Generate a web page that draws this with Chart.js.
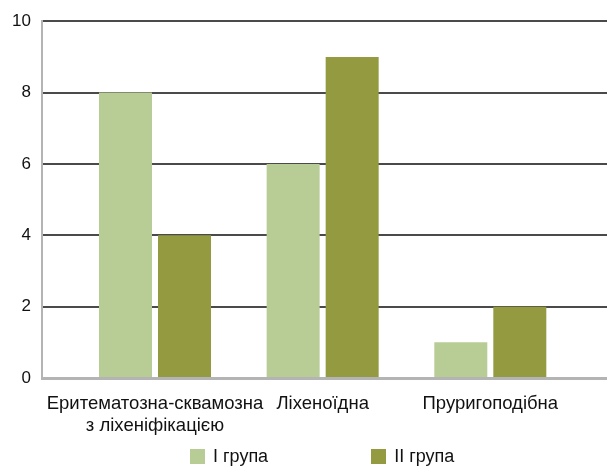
<!DOCTYPE html>
<html lang="uk">
<head>
<meta charset="utf-8">
<title>Групи</title>
<script src="https://cdn.jsdelivr.net/npm/chart.js@4.4.1/dist/chart.umd.min.js"></script>
<style>
  html, body { margin: 0; padding: 0; background: #fff; }
  #wrap { position: relative; width: 607px; height: 467px; overflow: hidden; }
  #legenda {
    position: absolute; left: 190px; top: 446px;
    display: flex; align-items: center;
    font-family: "Liberation Sans", Arial, sans-serif; font-size: 18px; color: #111;
  }
  .item { display: flex; align-items: center; margin-right: 103px; }
  .item:last-child { margin-right: 0; }
  .caixa { width: 15px; height: 15px; margin-right: 8px; }
</style>
</head>
<body>
<div id="wrap">
  <canvas id="meuGrafico" width="607" height="467"></canvas>
  <div id="legenda"></div>
</div>
<script>
// dados do gráfico
const categorias = [['Еритематозна-сквамозна', 'з ліхеніфікацією'], 'Ліхеноїдна', 'Пруригоподібна'];
const serieNomes = ['I група', 'II група'];
const grupo1 = [8, 6, 1];
const grupo2 = [4, 9, 2];
const yTicks = [0, 2, 4, 6, 8, 10];

const cores = ['#b8cc96', '#939a3f'];
const fonteY = { family: '"Liberation Sans", Arial, sans-serif', size: 17 };
const fonteX = { family: '"Liberation Sans", Arial, sans-serif', size: 18.5, lineHeight: 1.19 };

const series = [grupo1, grupo2];

// legenda em HTML
const legenda = document.getElementById('legenda');
serieNomes.forEach((nome, i) => {
  const item = document.createElement('div');
  item.className = 'item';
  const caixa = document.createElement('span');
  caixa.className = 'caixa';
  caixa.style.background = cores[i];
  const txt = document.createElement('span');
  txt.textContent = nome;
  item.appendChild(caixa);
  item.appendChild(txt);
  legenda.appendChild(item);
});

const ctx = document.getElementById('meuGrafico').getContext('2d');

new Chart(ctx, {
  type: 'bar',
  data: {
    datasets: series.map((valores, s) => ({
      label: serieNomes[s],
      data: valores.map((v, i) => ({ x: i, y: v })),
      backgroundColor: cores[s],
      borderWidth: 0,
      categoryPercentage: 0.704,
      barPercentage: 0.898
    }))
  },
  options: {
    responsive: false,
    animation: false,
    layout: { padding: { top: 19, left: 0, right: 0, bottom: 0 } },
    plugins: {
      legend: { display: false },
      tooltip: { enabled: false }
    },
    scales: {
      x: {
        type: 'linear',
        offset: false,
        min: -0.674,
        max: 2.696,
        afterBuildTicks: (axis) => {
          axis.ticks = categorias.map((_, i) => ({ value: i }));
        },
        afterFit: (axis) => { axis.height = 89; },
        grid: { color: 'rgba(0,0,0,0)', drawTicks: false },
        border: { display: true, color: '#b4b4b4', width: 3 },
        ticks: {
          padding: 15,
          maxRotation: 0,
          autoSkip: false,
          color: '#111',
          font: fonteX,
          callback: (v) => categorias[v] !== undefined ? categorias[v] : ''
        }
      },
      y: {
        min: 0,
        max: 10,
        afterBuildTicks: (axis) => {
          axis.ticks = yTicks.map(v => ({ value: v }));
        },
        afterFit: (axis) => { axis.width = 42; },
        grid: {
          drawTicks: false,
          lineWidth: 2,
          color: (c) => c.tick && c.tick.value === 0 ? 'rgba(0,0,0,0)' : '#4a4a4a'
        },
        border: { display: true, color: '#b4b4b4', width: 2 },
        ticks: {
          padding: 11,
          color: '#111',
          font: fonteY
        }
      }
    }
  }
});
</script>
</body>
</html>
